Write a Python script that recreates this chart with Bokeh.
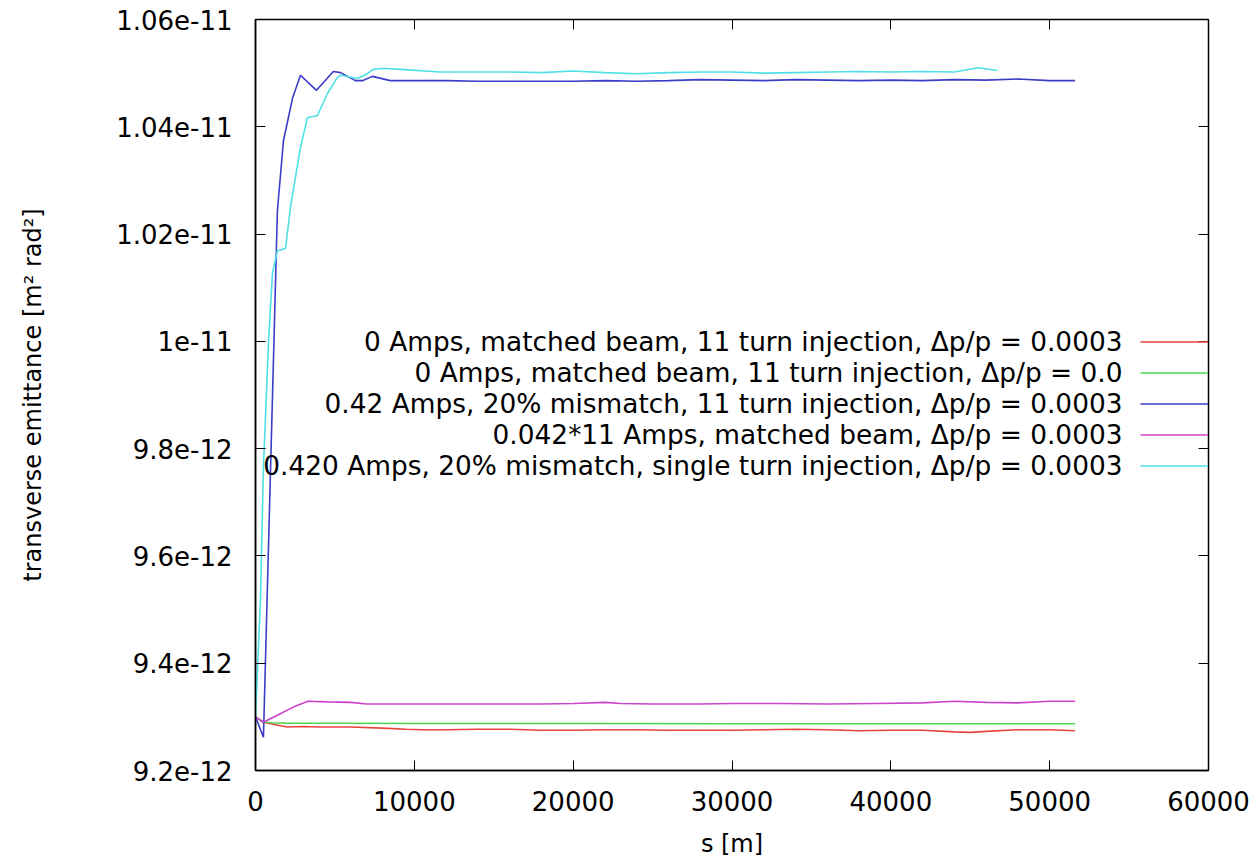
from bokeh.plotting import figure
from bokeh.models import (Range1d, LinearAxis, FixedTicker, CustomJSTickFormatter,
                          Legend, LegendItem, Label)
from bokeh.embed import file_html
from bokeh.resources import INLINE

# ---------------- data ----------------
x_ticks = [0, 10000, 20000, 30000, 40000, 50000, 60000]
y_ticks = [9.2e-12, 9.4e-12, 9.6e-12, 9.8e-12, 1.0e-11, 1.02e-11, 1.04e-11, 1.06e-11]

legend_labels = [
    "0 Amps, matched beam, 11 turn injection, \u0394p/p = 0.0003",
    "0 Amps, matched beam, 11 turn injection, \u0394p/p = 0.0",
    "0.42 Amps, 20% mismatch, 11 turn injection, \u0394p/p = 0.0003",
    "0.042*11 Amps, matched beam, \u0394p/p = 0.0003",
    "0.420 Amps, 20% mismatch, single turn injection, \u0394p/p = 0.0003",
]
colors = ["#e8453c", "#4fd44f", "#3c3cc8", "#cc44cc", "#4ee0e6"]

s_red = [0, 500, 1500, 2000, 3000, 4000, 6000, 8000, 9500, 10500, 12000, 14000, 16000,
         18000, 20000, 22000, 24000, 26000, 28000, 30000, 32000, 34000, 36000, 38000,
         40000, 42000, 44000, 45000, 46000, 48000, 50000, 51600]
eps_red = [9.300e-12, 9.290e-12, 9.284e-12, 9.281e-12, 9.282e-12, 9.281e-12, 9.281e-12,
           9.279e-12, 9.277e-12, 9.276e-12, 9.276e-12, 9.277e-12, 9.277e-12, 9.275e-12,
           9.275e-12, 9.276e-12, 9.276e-12, 9.275e-12, 9.275e-12, 9.275e-12, 9.276e-12,
           9.277e-12, 9.276e-12, 9.274e-12, 9.275e-12, 9.275e-12, 9.272e-12, 9.271e-12,
           9.273e-12, 9.276e-12, 9.276e-12, 9.274e-12]

s_green = [0, 500, 1000, 2000, 5000, 10000, 20000, 30000, 40000, 51600]
eps_green = [9.300e-12, 9.290e-12, 9.289e-12, 9.288e-12, 9.288e-12, 9.2875e-12,
             9.2875e-12, 9.2872e-12, 9.2872e-12, 9.2872e-12]

s_blue = [0, 500, 1380, 1760, 2330, 2830, 3840, 4900, 5350, 6290, 6730, 7360, 8490,
          10000, 12000, 14000, 16000, 18000, 20000, 22000, 24000, 26000, 28000, 30000,
          32000, 34000, 36000, 38000, 40000, 42000, 44000, 46000, 48000, 50000, 51600]
eps_blue = [9.300e-12, 9.262e-12, 1.0244e-11, 1.0374e-11, 1.0453e-11, 1.0496e-11,
            1.0468e-11, 1.0503e-11, 1.0501e-11, 1.0486e-11, 1.0486e-11, 1.0494e-11,
            1.0486e-11, 1.0486e-11, 1.0486e-11, 1.0485e-11, 1.0485e-11, 1.0485e-11,
            1.0485e-11, 1.0486e-11, 1.0485e-11, 1.0486e-11, 1.0488e-11, 1.0487e-11,
            1.0486e-11, 1.0488e-11, 1.0487e-11, 1.0486e-11, 1.0487e-11, 1.0486e-11,
            1.0488e-11, 1.0487e-11, 1.0489e-11, 1.0486e-11, 1.0486e-11]

s_magenta = [0, 500, 1500, 2500, 3300, 4500, 6000, 7000, 8000, 10000, 12000, 15000,
             18000, 20000, 22000, 23000, 25000, 28000, 30000, 33000, 36000, 39000,
             42000, 44000, 46000, 48000, 50000, 51600]
eps_magenta = [9.300e-12, 9.290e-12, 9.305e-12, 9.320e-12, 9.329e-12, 9.328e-12,
               9.327e-12, 9.324e-12, 9.324e-12, 9.324e-12, 9.324e-12, 9.324e-12,
               9.324e-12, 9.325e-12, 9.327e-12, 9.325e-12, 9.324e-12, 9.324e-12,
               9.325e-12, 9.325e-12, 9.324e-12, 9.325e-12, 9.326e-12, 9.329e-12,
               9.327e-12, 9.326e-12, 9.329e-12, 9.329e-12]

s_cyan = [0, 310, 500, 820, 1070, 1380, 1890, 2200, 2830, 3270, 3900, 4530, 5160, 5350,
          6420, 7040, 7420, 8050, 9120, 11640, 14000, 16000, 18000, 20000, 22000, 24000,
          26000, 28000, 30000, 32000, 34000, 36000, 38000, 40000, 42000, 44000, 45500,
          46700]
eps_cyan = [9.300e-12, 9.517e-12, 9.765e-12, 1.0000e-11, 1.0127e-11, 1.0169e-11,
            1.0173e-11, 1.0250e-11, 1.0361e-11, 1.0417e-11, 1.0421e-11, 1.0462e-11,
            1.0492e-11, 1.0496e-11, 1.0490e-11, 1.0499e-11, 1.0507e-11, 1.0509e-11,
            1.0507e-11, 1.0502e-11, 1.0502e-11, 1.0502e-11, 1.0501e-11, 1.0504e-11,
            1.0501e-11, 1.0499e-11, 1.0501e-11, 1.0502e-11, 1.0502e-11, 1.0500e-11,
            1.0501e-11, 1.0502e-11, 1.0503e-11, 1.0502e-11, 1.0503e-11, 1.0502e-11,
            1.0510e-11, 1.0505e-11]

series = [(s_red, eps_red), (s_green, eps_green), (s_blue, eps_blue),
          (s_magenta, eps_magenta), (s_cyan, eps_cyan)]

FONT = "DejaVu Sans"

# ---------------- figure ----------------
p = figure(width=1257, height=865, output_backend="svg", toolbar_location=None,
           x_range=Range1d(0, 60000), y_range=Range1d(9.2e-12, 1.06e-11),
           min_border_left=255, min_border_right=49, min_border_top=19,
           min_border_bottom=95)
p.xgrid.visible = False
p.ygrid.visible = False
p.outline_line_color = "black"
p.outline_line_width = 1.5
p.background_fill_color = "white"
p.border_fill_color = "white"

fmt_y = CustomJSTickFormatter(code="return Number(tick.toPrecision(4)).toString();")
fmt_none = CustomJSTickFormatter(code="return '';")

for ax in (p.xaxis[0], p.yaxis[0]):
    ax.major_tick_in = 10
    ax.major_tick_out = 0
    ax.minor_tick_in = 0
    ax.minor_tick_out = 0
    ax.axis_line_color = "black"
    ax.axis_line_width = 1.5
    ax.major_tick_line_color = "black"
    ax.major_label_text_font = FONT
    ax.major_label_text_font_size = "26px"
    ax.major_label_text_color = "black"
    ax.axis_label_text_font = FONT
    ax.axis_label_text_font_style = "normal"
    ax.axis_label_text_color = "black"

p.xaxis[0].ticker = FixedTicker(ticks=x_ticks)
p.xaxis[0].major_label_standoff = 20
p.xaxis[0].axis_label = "s [m]"
p.xaxis[0].axis_label_text_font_size = "24px"
p.xaxis[0].axis_label_standoff = 16

p.yaxis[0].ticker = FixedTicker(ticks=y_ticks)
p.yaxis[0].formatter = fmt_y
p.yaxis[0].major_label_standoff = 23
p.yaxis[0].axis_label = "transverse emittance [m\u00b2 rad\u00b2]"
p.yaxis[0].axis_label_text_font_size = "24px"
p.yaxis[0].axis_label_standoff = 66

# mirror ticks (no labels)
top = LinearAxis(ticker=FixedTicker(ticks=x_ticks), formatter=fmt_none,
                 major_tick_in=10, major_tick_out=0, minor_tick_in=0, minor_tick_out=0,
                 axis_line_color="black", major_label_standoff=0)
right = LinearAxis(ticker=FixedTicker(ticks=y_ticks), formatter=fmt_none,
                   major_tick_in=10, major_tick_out=0, minor_tick_in=0, minor_tick_out=0,
                   axis_line_color="black", major_label_standoff=0)
p.add_layout(top, "above")
p.add_layout(right, "right")

renderers = []
for (sx, ey), c in zip(series, colors):
    r = p.line(sx, ey, line_color=c, line_width=1.6)
    renderers.append(r)

# legend samples (gnuplot style: text left, sample right)
legend = Legend(items=[LegendItem(label="", renderers=[r]) for r in renderers],
                location=(885, 289), orientation="vertical",
                glyph_width=93, glyph_height=31, spacing=0, padding=0, margin=0,
                label_width=0, label_height=0, label_standoff=0,
                label_text_font_size="1px",
                background_fill_alpha=0, border_line_alpha=0)
p.add_layout(legend)

row_top = 770 - 341
for i, txt in enumerate(legend_labels):
    p.add_layout(Label(x=867, y=row_top - 31 * i, x_units="screen", y_units="screen",
                       text=txt, text_align="right", text_baseline="middle",
                       text_font=FONT, text_font_size="26.4px", text_color="black"))

open("out.html", "w").write(file_html(p, INLINE))
